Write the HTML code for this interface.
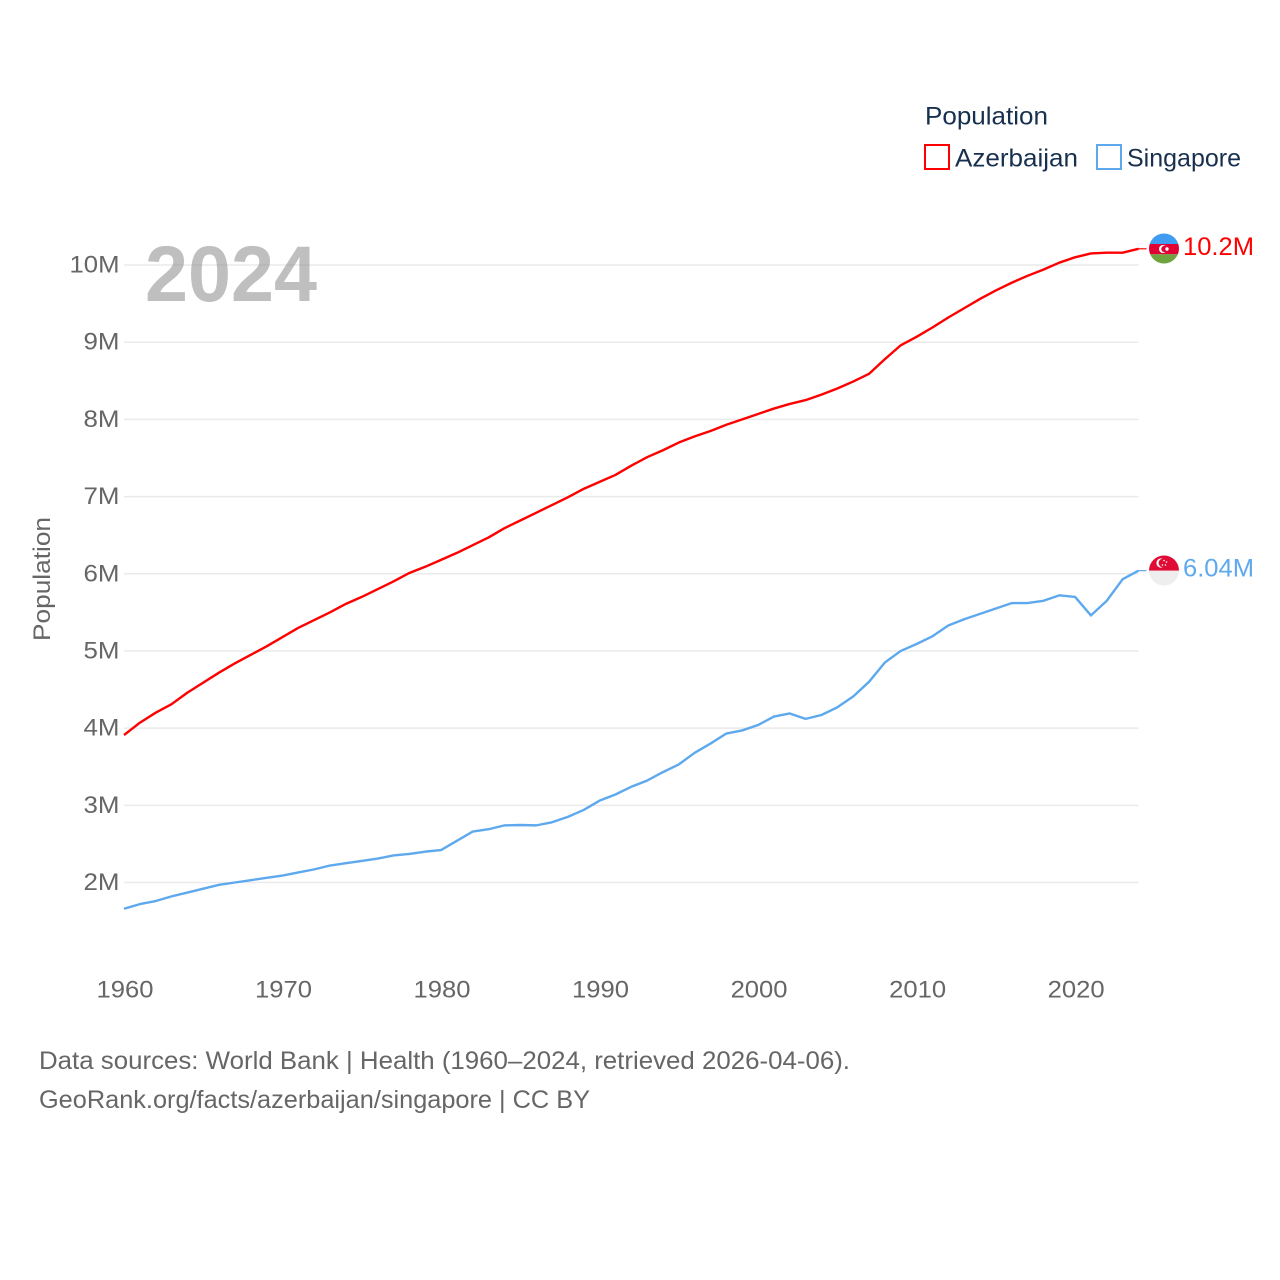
<!DOCTYPE html>
<html lang="en">
<head>
<meta charset="utf-8">
<title>Population: Azerbaijan and Singapore</title>
<style>
html,body{margin:0;padding:0;background:#fff}
svg{display:block;font-family:"Liberation Sans",sans-serif}
</style>
</head>
<body>
<svg id="chart" width="1280" height="1280" viewBox="0 0 1280 1280" xmlns="http://www.w3.org/2000/svg">
  <defs>
    <clipPath id="clip-az"><circle cx="1164" cy="248.5" r="15"/></clipPath>
    <clipPath id="clip-sg"><circle cx="1164" cy="570.5" r="15"/></clipPath>
  </defs>
  <rect width="1280" height="1280" fill="#fff"/>

  <g id="grid"></g>
  <g id="y-ticks"></g>
  <g id="x-ticks"></g>

  <text x="145" y="301" font-size="79" font-weight="700" fill="#808080" fill-opacity="0.5" textLength="172" lengthAdjust="spacingAndGlyphs">2024</text>
  <text transform="translate(50,579) rotate(-90)" text-anchor="middle" font-size="24.5" fill="#666" textLength="124" lengthAdjust="spacingAndGlyphs">Population</text>

  <g id="series"></g>

  <g clip-path="url(#clip-az)">
    <rect x="1149" y="233" width="30" height="11" fill="#3f9cf0"/>
    <rect x="1149" y="244" width="30" height="10.3" fill="#e00034"/>
    <rect x="1149" y="254.3" width="30" height="10" fill="#6fa33f"/>
    <circle cx="1163" cy="249" r="4" fill="#fff"/>
    <circle cx="1164.5" cy="249" r="3.2" fill="#e00034"/>
    <circle cx="1167" cy="249" r="1.7" fill="#fff"/>
  </g>
  <g clip-path="url(#clip-sg)">
    <rect x="1149" y="555" width="30" height="15.7" fill="#df0b35"/>
    <rect x="1149" y="570.7" width="30" height="15.3" fill="#eeeeee"/>
    <circle cx="1161" cy="563" r="4.6" fill="#fff"/>
    <circle cx="1163" cy="563" r="4.4" fill="#df0b35"/>
    <circle cx="1164" cy="560.5" r="0.8" fill="#fff"/>
    <circle cx="1166.5" cy="562" r="0.8" fill="#fff"/>
    <circle cx="1165.5" cy="565" r="0.8" fill="#fff"/>
    <circle cx="1162.5" cy="565" r="0.8" fill="#fff"/>
  </g>
  <text id="label-az" x="1183" y="255" font-size="25" fill="#ff0000" textLength="71" lengthAdjust="spacingAndGlyphs">10.2M</text>
  <text id="label-sg" x="1183" y="576.5" font-size="25" fill="#5ea9ee" textLength="71" lengthAdjust="spacingAndGlyphs">6.04M</text>

  <g>
    <text x="925" y="124.5" font-size="25" fill="#18304f" textLength="123" lengthAdjust="spacingAndGlyphs">Population</text>
    <g>
      <rect x="925" y="145" width="24" height="24" fill="none" stroke="#ff0000" stroke-width="2"/>
      <text x="955" y="166.5" font-size="25" fill="#18304f" textLength="123" lengthAdjust="spacingAndGlyphs">Azerbaijan</text>
    </g>
    <g>
      <rect x="1097" y="145" width="24" height="24" fill="none" stroke="#5ea9ee" stroke-width="2"/>
      <text x="1127" y="166.5" font-size="25" fill="#18304f" textLength="114" lengthAdjust="spacingAndGlyphs">Singapore</text>
    </g>
  </g>

  <text x="39" y="1069" font-size="25" fill="#666" textLength="811" lengthAdjust="spacingAndGlyphs">Data sources: World Bank | Health (1960–2024, retrieved 2026-04-06).</text>
  <text x="39" y="1108" font-size="25" fill="#666" textLength="551" lengthAdjust="spacingAndGlyphs">GeoRank.org/facts/azerbaijan/singapore | CC BY</text>
</svg>
<script>
const startYear = 1960;
const yTickValues = [2, 3, 4, 5, 6, 7, 8, 9, 10];
const yTickLabels = ["2M", "3M", "4M", "5M", "6M", "7M", "8M", "9M", "10M"];
const xTickYears = [1960, 1970, 1980, 1990, 2000, 2010, 2020];
const xTickLabels = ["1960", "1970", "1980", "1990", "2000", "2010", "2020"];
const azerbaijanValues = [3.91,4.07,4.20,4.31,4.46,4.59,4.72,4.84,4.95,5.06,
  5.18,5.30,5.40,5.50,5.61,5.70,5.80,5.90,6.01,6.09,
  6.18,6.27,6.37,6.47,6.59,6.69,6.79,6.89,6.99,7.10,
  7.19,7.28,7.40,7.51,7.60,7.70,7.78,7.85,7.93,8.00,
  8.07,8.14,8.20,8.25,8.32,8.40,8.49,8.59,8.78,8.96,
  9.07,9.19,9.32,9.44,9.56,9.67,9.77,9.86,9.94,10.03,
  10.10,10.15,10.16,10.16,10.21];
const singaporeValues = [1.66,1.72,1.76,1.82,1.87,1.92,1.97,2.00,2.03,2.06,
  2.09,2.13,2.17,2.22,2.25,2.28,2.31,2.35,2.37,2.40,
  2.42,2.54,2.66,2.69,2.74,2.745,2.74,2.78,2.85,2.94,
  3.06,3.14,3.24,3.32,3.43,3.53,3.68,3.80,3.93,3.97,
  4.04,4.15,4.19,4.12,4.17,4.27,4.41,4.60,4.85,5.00,
  5.09,5.19,5.33,5.41,5.48,5.55,5.62,5.62,5.65,5.72,
  5.70,5.46,5.65,5.93,6.04];

const NS = "http://www.w3.org/2000/svg";
const xScale = function (year) { return 124 + (year - 1960) * (1138.5 - 124) / 64; };
const yScale = function (v) { return 882.5 - (v - 2) * (882.5 - 265) / 8; };

function make(tag, attrs, parent, text) {
  const el = document.createElementNS(NS, tag);
  Object.keys(attrs).forEach(function (k) { el.setAttribute(k, attrs[k]); });
  if (text !== undefined) el.textContent = text;
  parent.appendChild(el);
  return el;
}

const grid = document.getElementById("grid");
const yTicks = document.getElementById("y-ticks");
const xTicks = document.getElementById("x-ticks");
const series = document.getElementById("series");

yTickValues.forEach(function (v, i) {
  const line = make("line", {x1: 124, x2: 1138.5, y1: yScale(v), y2: yScale(v), stroke: "#eaeaea", "stroke-width": 1.5}, grid);
  
  
  const label = make("text", {x: 119.5, y: yScale(v) + 7.5, "text-anchor": "end", "font-size": 24.5, fill: "#666", textLength: yTickLabels[i].length > 2 ? 50 : 36, lengthAdjust: "spacingAndGlyphs"}, yTicks, yTickLabels[i]);
  
  
});

xTickYears.forEach(function (year, i) {
  const label = make("text", {x: xScale(year) + 1, y: 997.5, "text-anchor": "middle", "font-size": 24.5, fill: "#666", textLength: 57, lengthAdjust: "spacingAndGlyphs"}, xTicks, xTickLabels[i]);
  
  
});

function drawSeries(values, color) {
  const pts = values.map(function (v, i) { return xScale(startYear + i).toFixed(2) + "," + yScale(v).toFixed(2); });
  return make("polyline", {points: pts.join(" "), fill: "none", stroke: color, "stroke-width": 2.4, "stroke-linejoin": "round"}, series);
}

function drawConnector(values, color) {
  const lastY = yScale(values[values.length - 1]);
  const lastX = xScale(startYear + values.length - 1);
  return make("line", {x1: lastX, x2: lastX + 8, y1: lastY, y2: lastY, stroke: color, "stroke-width": 1.2}, series);
}

const azLine = drawSeries(azerbaijanValues, "#ff0000");


const sgLine = drawSeries(singaporeValues, "#5ea9ee");


const azConnector = drawConnector(azerbaijanValues, "#ff0000");


const sgConnector = drawConnector(singaporeValues, "#5ea9ee");


</script>
</body>
</html>
